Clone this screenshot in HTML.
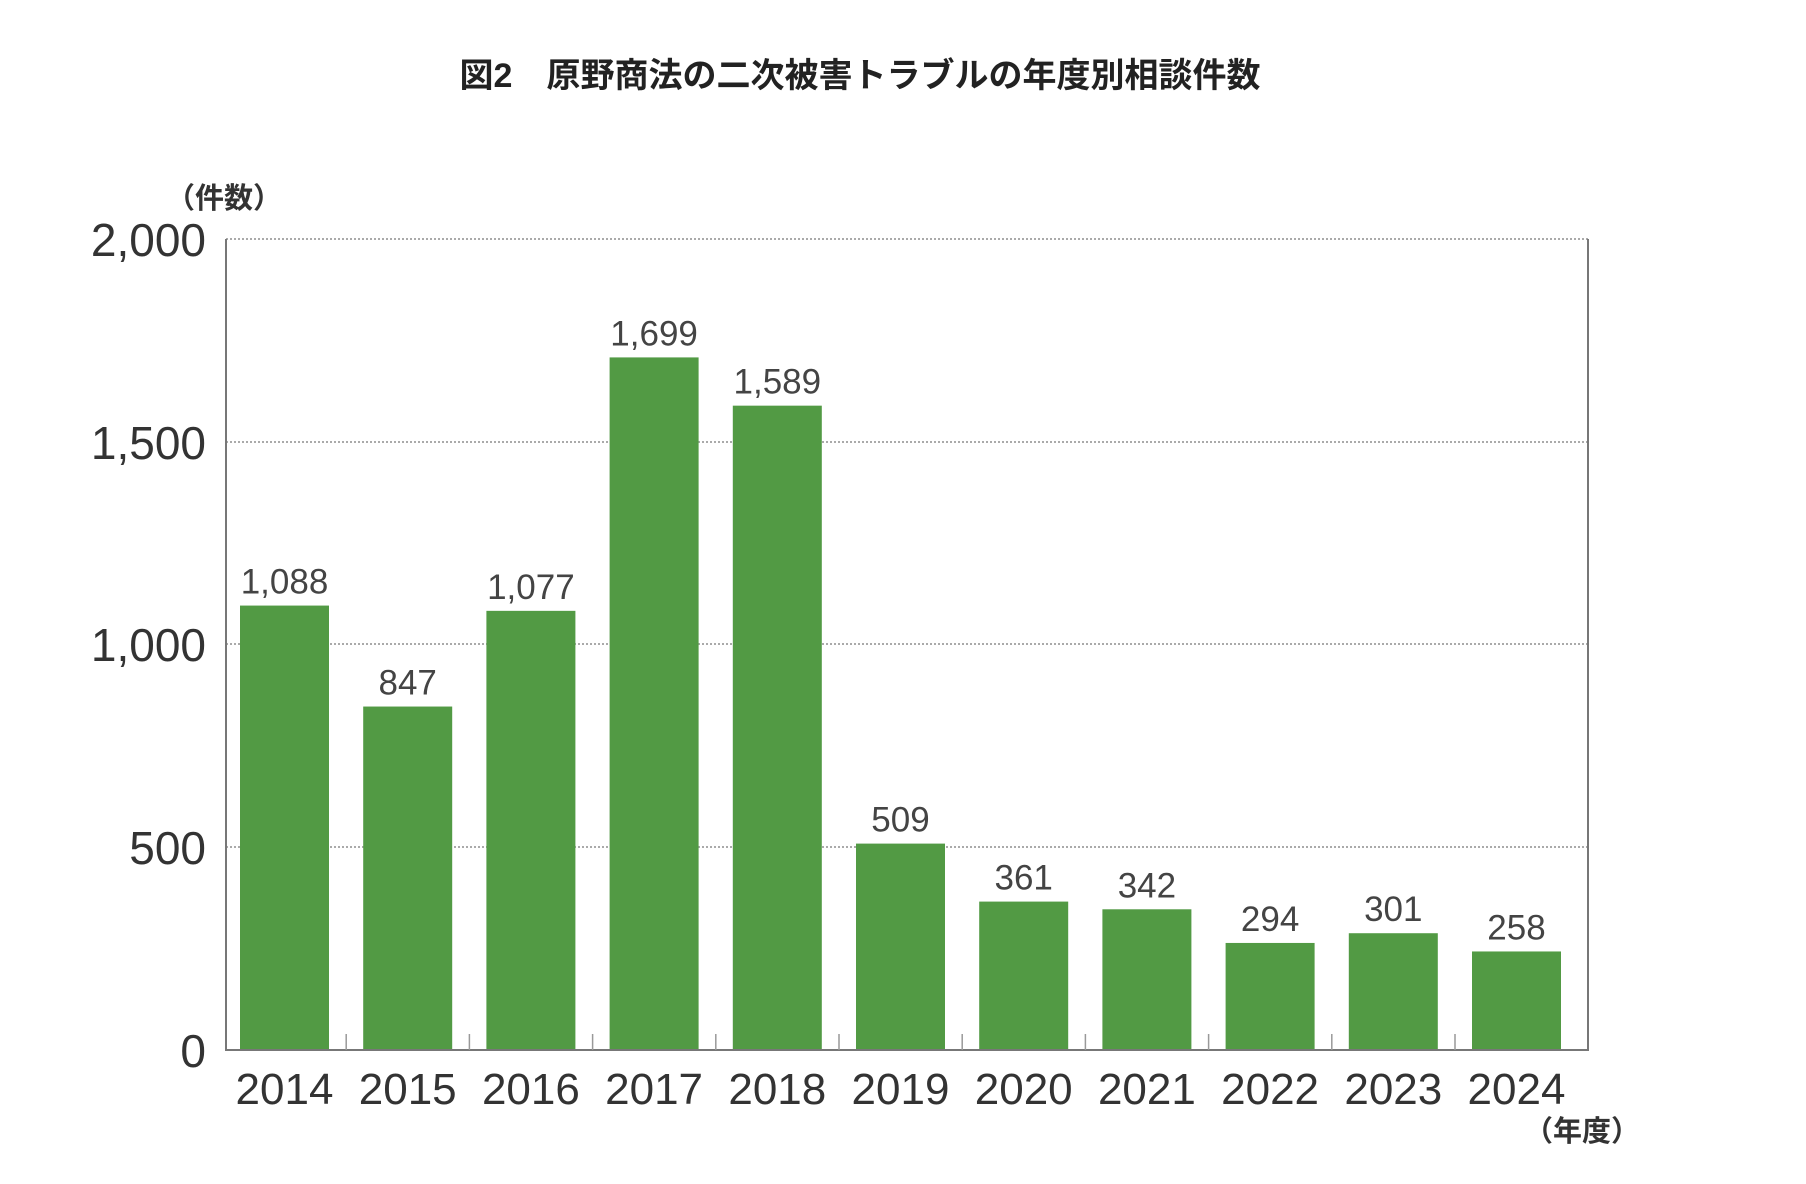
<!DOCTYPE html>
<html><head><meta charset="utf-8"><style>
body{margin:0;background:#fff;}
svg{display:block;font-family:"Liberation Sans","Noto Sans CJK JP",sans-serif;}
</style></head><body>
<svg width="1806" height="1184" viewBox="0 0 1806 1184" xmlns="http://www.w3.org/2000/svg">
<text x="860" y="87" font-size="34" font-weight="bold" text-anchor="middle" fill="#222">図2　原野商法の二次被害トラブルの年度別相談件数</text>
<text x="166" y="208" font-size="29" font-weight="bold" fill="#333">（件数）</text>
<g stroke="#777" stroke-width="1.2" stroke-dasharray="2,2">
<line x1="226" y1="239" x2="1588" y2="239"/>
<line x1="226" y1="442" x2="1588" y2="442"/>
<line x1="226" y1="644" x2="1588" y2="644"/>
<line x1="226" y1="847" x2="1588" y2="847"/>
</g>
<g font-size="46" fill="#333" text-anchor="end">
<text x="206" y="256">2,000</text>
<text x="206" y="459">1,500</text>
<text x="206" y="661">1,000</text>
<text x="206" y="864">500</text>
<text x="206" y="1067">0</text>
</g>
<g fill="#529a44" id="bars"></g>
<g stroke="#777" stroke-width="2">
<line x1="226" y1="239" x2="226" y2="1051"/>
<line x1="1588" y1="239" x2="1588" y2="1051"/>
<line x1="225" y1="1050" x2="1589" y2="1050"/>
</g>
<g id="ticks" stroke="#999" stroke-width="1.5"></g>
<g id="vals" font-size="35" fill="#444" text-anchor="middle"></g>
<g id="years" font-size="44" fill="#333" text-anchor="middle"></g>
<text x="1524" y="1141" font-size="29" font-weight="bold" fill="#333">（年度）</text>
</svg>
<script>
var v=[1096,847,1083,1708,1589,509,366,347,264,288,243];
var l=["1,088","847","1,077","1,699","1,589","509","361","342","294","301","258"];
var ns="http://www.w3.org/2000/svg";
function el(p,t,a,txt){var e=document.createElementNS(ns,t);for(var k in a)e.setAttribute(k,a[k]);if(txt)e.textContent=txt;document.getElementById(p).appendChild(e);}
for(var i=0;i<11;i++){
var x=240+123.2*i,h=v[i]*0.4055,y=1050-h;
el("bars","rect",{x:x,y:y,width:89,height:h});
el("vals","text",{x:x+44.5,y:y-12},l[i]);
el("years","text",{x:x+44.5,y:1104},String(2014+i));
if(i>0){var tx=x-17;el("ticks","line",{x1:tx,y1:1034,x2:tx,y2:1050});}
}
</script>
</body></html>
